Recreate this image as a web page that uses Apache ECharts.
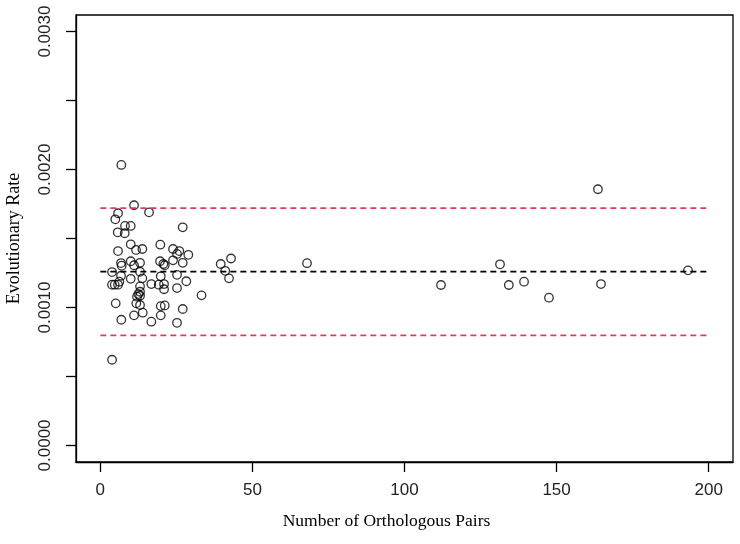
<!DOCTYPE html>
<html>
<head>
<meta charset="utf-8">
<script src="https://cdn.jsdelivr.net/npm/echarts@6/dist/echarts.min.js"></script>
<style>html,body{margin:0;padding:0;background:#fff;}#c{width:740px;height:544px;}</style>
</head>
<body>
<div id="c"></div>
<script>
// Number of orthologous pairs (x) and evolutionary rate (y)
var pairs = [6.90,11.08,16.01,5.82,4.93,8.12,9.99,27.09,5.72,8.02,9.99,5.82,11.74,13.81,19.72,23.90,25.97,25.21,28.93,6.80,9.99,13.05,19.63,20.71,21.17,23.90,27.09,7.03,11.08,3.85,6.80,9.99,13.05,13.81,19.86,25.21,3.85,4.73,5.82,6.25,13.05,16.77,19.20,20.94,28.27,20.94,25.21,13.05,12.49,13.05,12.06,33.27,5.06,11.83,13.05,19.86,21.17,27.09,6.90,11.08,13.94,19.86,16.77,25.21,3.85,39.58,42.97,41.06,42.31,67.95,112.0,131.4,134.3,139.3,147.5,163.6,164.6,193.2];
var rates = [0.002033,0.001741,0.001690,0.001683,0.001639,0.001591,0.001591,0.001581,0.001545,0.001538,0.001458,0.001409,0.001417,0.001424,0.001455,0.001424,0.001409,0.001388,0.001382,0.001322,0.001335,0.001324,0.001335,0.001315,0.001306,0.001342,0.001324,0.001303,0.001306,0.001257,0.001230,0.001208,0.001259,0.001211,0.001226,0.001237,0.001165,0.001165,0.001165,0.001187,0.001153,0.001170,0.001165,0.001170,0.001190,0.001132,0.001141,0.001114,0.001097,0.001085,0.001078,0.001088,0.001030,0.001030,0.001018,0.001010,0.001015,0.000989,0.000911,0.000943,0.000962,0.000943,0.000897,0.000889,0.000621,0.001315,0.001355,0.001266,0.001211,0.001321,0.001163,0.001313,0.001163,0.001187,0.001071,0.001857,0.001170,0.001269];
var meanRate = 0.001260;
var upperRate = 0.001720;
var lowerRate = 0.000798;
var lineRange = [0, 200];
var xTicks = [0, 50, 100, 150, 200];
var yTicks = [0, 0.0005, 0.0010, 0.0015, 0.0020, 0.0025, 0.0030];
var yLabels = [0, 0.0010, 0.0020, 0.0030];

var pts = pairs.map(function(x, i){ return [x, rates[i]]; });
function hline(v){ return [[lineRange[0], v],[lineRange[1], v]]; }

var chart = echarts.init(document.getElementById('c'), null, {renderer:'canvas'});
chart.setOption({
  backgroundColor: '#ffffff',
  animation: false,
  grid: {left: 76, right: 7, top: 15, bottom: 82, show: true, containLabel: false, outerBoundsMode: 'none',
    borderColor: '#000', borderWidth: 1.3, backgroundColor: 'transparent'},
  xAxis: {
    type: 'value', min: -8, max: 208,
    name: 'Number of Orthologous Pairs', nameLocation: 'middle', nameGap: 50,
    nameTextStyle: {fontFamily: 'Liberation Serif', fontSize: 17.5, color: '#000', padding: [0, 36, 0, 0]},
    axisLine: {show: true, onZero: false, lineStyle: {color: '#000', width: 1.3}},
    axisTick: {show: true, length: 10, customValues: xTicks, lineStyle: {color: '#000', width: 1.3}},
    axisLabel: {customValues: xTicks, margin: 20, fontFamily: 'Liberation Sans', fontSize: 17, color: '#222'},
    splitLine: {show: false}
  },
  yAxis: {
    type: 'value', min: -0.00012, max: 0.00312,
    name: 'Evolutionary Rate', nameLocation: 'middle', nameGap: 53,
    nameTextStyle: {fontFamily: 'Liberation Serif', fontSize: 18, color: '#000'},
    axisLine: {show: true, onZero: false, lineStyle: {color: '#000', width: 1.3}},
    axisTick: {show: true, length: 10, customValues: yTicks, lineStyle: {color: '#000', width: 1.3}},
    axisLabel: {customValues: yLabels, rotate: 90, margin: 22, fontFamily: 'Liberation Sans', fontSize: 17, color: '#222',
      formatter: function(v){ return v.toFixed(4); }},
    splitLine: {show: false}
  },
  series: [
    {type: 'line', data: hline(upperRate), symbol: 'none', silent: true,
      lineStyle: {color: '#d2425a', width: 1.6, type: [6, 4]}},
    {type: 'line', data: hline(lowerRate), symbol: 'none', silent: true,
      lineStyle: {color: '#d2425a', width: 1.6, type: [6, 4]}},
    {type: 'line', data: hline(meanRate), symbol: 'none', silent: true,
      lineStyle: {color: '#000', width: 1.6, type: [6, 4]}},
    {type: 'scatter', data: pts, symbol: 'circle', symbolSize: 8.5,
      itemStyle: {color: 'rgba(0,0,0,0)', borderColor: '#000', borderWidth: 1.3}}
  ]
});
</script>
</body>
</html>
